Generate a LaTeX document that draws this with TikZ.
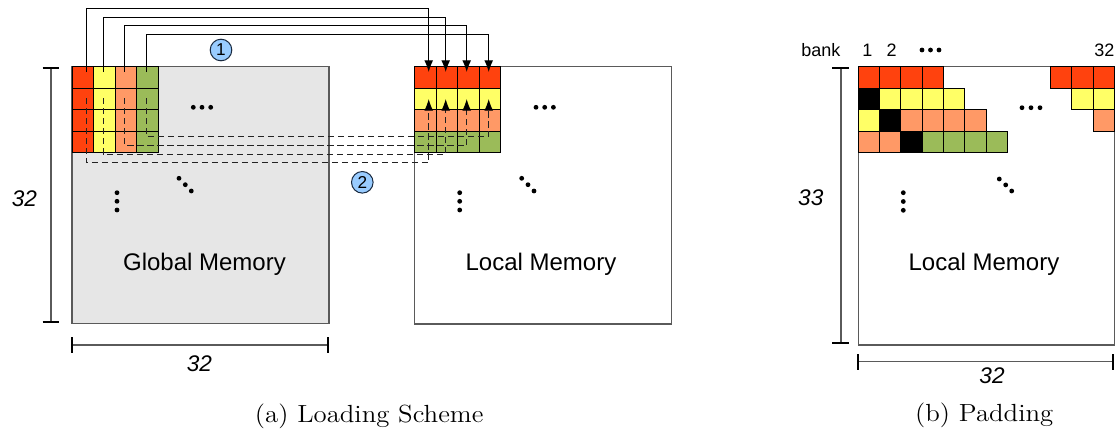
\documentclass[tikz,border=0pt]{standalone}
\usepackage{fontspec}
\setsansfont{Liberation Sans}
\usetikzlibrary{arrows.meta}
\usepackage{graphicx}

\definecolor{cellred}{HTML}{FF420E}
\definecolor{cellyellow}{HTML}{FFFF66}
\definecolor{cellsalmon}{HTML}{FF9966}
\definecolor{cellgreen}{HTML}{9BBB59}
\definecolor{memgray}{HTML}{E6E6E6}
\definecolor{edgegray}{HTML}{5A5A5A}
\definecolor{tagblue}{HTML}{99CCFF}
\definecolor{tagedge}{HTML}{1A2A40}
\definecolor{dashgray}{HTML}{222222}

\begin{document}
\begin{tikzpicture}[x=0.5pt,y=-0.5pt,
  mem/.style={draw=edgegray, line width=0.6pt},
  cell/.style={draw=black, line width=0.5pt, minimum width=10.75pt,
               minimum height=10.75pt, inner sep=0pt, outer sep=0pt},
  bcell/.style={draw=black, line width=0.5pt, minimum width=10.65pt,
               minimum height=10.75pt, inner sep=0pt, outer sep=0pt},
  wire/.style={draw=black, line width=0.5pt},
  arrowhead/.style={-{Latex[length=5.8pt,width=4.4pt,color=black]}},
  dashwire/.style={draw=dashgray, line width=0.5pt, dash pattern=on 3.2pt off 1.8pt},
  tag/.style={circle, draw=tagedge, fill=tagblue, line width=0.5pt,
              minimum size=10.8pt, inner sep=0pt, font=\sffamily\fontsize{8.6}{9}\selectfont},
  dimline/.style={draw=edgegray, line width=0.6pt},
  dimtick/.style={draw=black, line width=1pt},
  memlabel/.style={anchor=base, inner sep=0pt, font=\sffamily\fontsize{12}{14}\selectfont},
  dimlabel/.style={anchor=base, inner sep=0pt, font=\sffamily\itshape\fontsize{11.3}{13}\selectfont},
  banklabel/.style={anchor=base, inner sep=0pt, font=\sffamily\fontsize{9}{11}\selectfont},
  caption/.style={anchor=base, inner sep=0pt, font=\fontsize{12.4}{14}\selectfont},
]
\useasboundingbox (0,0) rectangle (1115,429);

% ---------------- (a) Loading scheme ----------------
\node[mem, fill=memgray, minimum width=128.5pt, minimum height=128.5pt,
      inner sep=0pt, outer sep=0pt, anchor=north west] (glob) at (72,66.7) {};
\node[mem, fill=white, minimum width=128.2pt, minimum height=128.6pt,
      inner sep=0pt, outer sep=0pt, anchor=north west] (loc) at (414.7,66.7) {};

% global tile: one colour per column
\foreach \c/\col in {1/cellred,2/cellyellow,3/cellsalmon,4/cellgreen}
  \foreach \r in {1,...,4}
    \node[cell, fill=\col] (g\r\c) at ({72+21.5*(\c-0.5)}, {66.7+21.5*(\r-0.5)}) {};

% local tile: one colour per row
\foreach \r/\col in {1/cellred,2/cellyellow,3/cellsalmon,4/cellgreen}
  \foreach \c in {1,...,4}
    \node[cell, fill=\col] (l\r\c) at ({414.7+21.5*(\c-0.5)}, {66.7+21.5*(\r-0.5)}) {};

% step 1: first row, column by column
\foreach \i/\gx/\lx/\hy in {1/86.5/428.7/8.7, 2/103.3/445.7/17.3,
                            3/124.7/466.7/25.7, 4/146.5/488.7/34.3}
{
  \coordinate (src\i) at (\gx,72);
  \coordinate (dst\i) at (\lx,72);
  \draw[wire, arrowhead] (src\i) -- (\gx,\hy) -| (dst\i);
}

% step 2: remaining rows
\foreach \i/\gx/\lx/\dy in {1/86.5/428.7/162.7, 2/103.3/445.7/154.3,
                            3/124.7/466.7/145.5, 4/146.5/488.7/136.7}
{
  \coordinate (dsrc\i) at (\gx,98);
  \coordinate (ddst\i) at (\lx,99);
  \draw[dashwire, arrowhead] (dsrc\i) -- (\gx,\dy) -| (ddst\i);
}

\node[tag] (step1) at (221,50) {1};
\node[tag] (step2) at (362.3,182.3) {2};

% ellipsis dots
\foreach \dx in {0,342.7}
{
  \foreach \px in {193.3,202,210.7} \fill ({\px+\dx},107.3) circle (1.2pt);
  \foreach \py in {192.7,201.3,210} \fill ({117+\dx},\py) circle (1.2pt);
  \foreach \px/\py in {179/178.3,185.3/184.7,191.3/191} \fill ({\px+\dx},\py) circle (1.2pt);
}

\node[memlabel] (gm) at (204.5,270.6) {Global Memory};
\node[memlabel] (lm) at (541,270.6) {Local Memory};

% dimensions
\coordinate (ha) at (51,67.7);
\coordinate (hb) at (51,322.3);
\draw[dimline] (ha) -- (hb);
\draw[dimtick] (42.5,67.7) -- (59.3,67.7);
\draw[dimtick] (42.5,322.3) -- (59.3,322.3);
\node[dimlabel] (hlab) at (24.5,206.5) {32};

\coordinate (wa) at (72.3,345);
\coordinate (wb) at (328.3,345);
\draw[dimline] (wa) -- (wb);
\draw[dimtick] (72.3,337) -- (72.3,353);
\draw[dimtick] (328.3,337) -- (328.3,353);
\node[dimlabel] (wlab) at (199.5,371.5) {32};

\node[caption] (capa) at (369.2,422) {\scalebox{1.08}[1]{(a) Loading Scheme}};

% ---------------- (b) Padding ----------------
\node[mem, fill=white, minimum width=128.1pt, minimum height=139.15pt,
      inner sep=0pt, outer sep=0pt, anchor=north west] (pad) at (858.3,66.7) {};

% skewed rows (left part)
\foreach \r/\c/\col in {1/1/cellred,1/2/cellred,1/3/cellred,1/4/cellred,
                        2/1/black,2/2/cellyellow,2/3/cellyellow,2/4/cellyellow,2/5/cellyellow,
                        3/1/cellyellow,3/2/black,3/3/cellsalmon,3/4/cellsalmon,3/5/cellsalmon,3/6/cellsalmon,
                        4/1/cellsalmon,4/2/cellsalmon,4/3/black,4/4/cellgreen,4/5/cellgreen,4/6/cellgreen,4/7/cellgreen}
  \node[bcell, fill=\col] (p\r\c) at ({858.3+21.3*(\c-0.5)}, {66.7+21.5*(\r-0.5)}) {};

% skewed rows (right part, bank 32 side)
\foreach \r/\k/\col in {1/3/cellred,1/2/cellred,1/1/cellred,
                        2/2/cellyellow,2/1/cellyellow,
                        3/1/cellsalmon}
  \node[bcell, fill=\col] (q\r\k) at ({1114.5-21.3*(\k-0.5)}, {66.7+21.5*(\r-0.5)}) {};

\node[banklabel] (bank) at (820.8,56.7) {bank};
\node[banklabel] (b1) at (867.3,56.7) {1};
\node[banklabel] (b2) at (891.7,56.7) {2};
\node[banklabel, anchor=base east] (b32) at (1114.8,56.7) {32};
\foreach \px in {922,930.5,939} \fill (\px,50) circle (1.2pt);

\foreach \px in {1022,1031,1040} \fill (\px,107.7) circle (1.2pt);
\foreach \py in {192.7,201.5,210.3} \fill (903.3,\py) circle (1.2pt);
\foreach \px/\py in {999.3/179,1005.7/184.9,1011.7/191} \fill (\px,\py) circle (1.2pt);

\node[memlabel] (plm) at (984,270.6) {Local Memory};

\coordinate (pha) at (841,67.7);
\coordinate (phb) at (841,343.3);
\draw[dimline] (pha) -- (phb);
\draw[dimtick] (832.3,67.7) -- (849.3,67.7);
\draw[dimtick] (832.3,343.3) -- (849.3,343.3);
\node[dimlabel] (phlab) at (810.8,205) {33};

\coordinate (pwa) at (858.3,361.7);
\coordinate (pwb) at (1113.3,361.7);
\draw[dimline] (pwa) -- (pwb);
\draw[dimtick] (858.3,354) -- (858.3,370);
\draw[dimtick] (1113.3,354) -- (1113.3,370);
\node[dimlabel] (pwlab) at (992,383.3) {32};

\node[caption] (capb) at (984.2,421) {\scalebox{1.08}[1]{(b) Padding}};
\end{tikzpicture}
\end{document}
